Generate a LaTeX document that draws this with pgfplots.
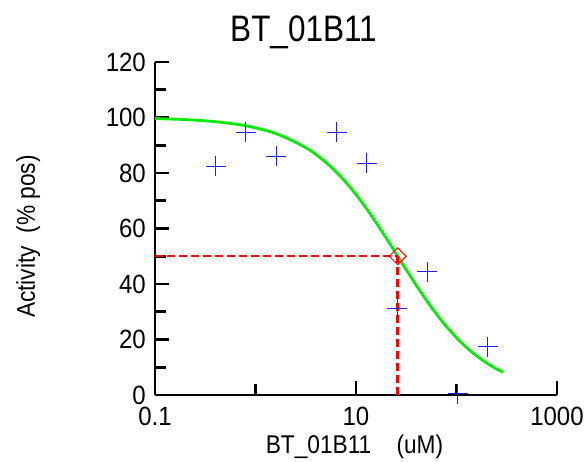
\documentclass[border=0pt]{standalone}
\usepackage{fontspec}
\setmainfont{Liberation Sans}
\usepackage{graphicx}
\usepackage{pgfplots}
\pgfplotsset{compat=1.18}
\definecolor{cgreen}{RGB}{0,235,0}
\definecolor{cblue}{RGB}{30,30,240}
\newcommand{\vs}[2][1.1]{\scalebox{1}[#1]{#2}}
\begin{document}
\begin{tikzpicture}
\useasboundingbox (-155pt,-67pt) rectangle (429pt,395pt);
\begin{axis}[
  at={(0,0)}, anchor=south west,
  scale only axis, width=402pt, height=333pt,
  xmode=log, xmin=0.1, xmax=1000, ymin=0, ymax=120,
  axis x line=bottom, axis y line=left,
  axis line style={line width=2.8pt, -},
  xtick={0.1,10,1000}, xticklabels={\vs{0.1},\vs{10},\vs{1000}},
  minor xtick={1,100},
  ytick={0,20,...,120}, minor ytick={10,30,...,110},
  yticklabel={\vs{\pgfmathprintnumber{\tick}}},
  /pgf/number format/assume math mode=true,
  tick align=inside,
  major tick length=14pt, minor tick length=11pt,
  tick style={black, line width=2.8pt},
  tick label style={font=\fontsize{24}{28}\selectfont},
  yticklabel style={anchor=east, inner sep=0pt, xshift=-9pt},
  xticklabel style={anchor=north, inner sep=0pt, yshift=-12pt},
  clip=false,
]
\addplot[cgreen, line width=2.8pt, no marks, smooth] coordinates {
(0.1,99.62) (0.2,99.24) (0.4,98.48) (0.8,97.02) (1.6,94.20) (3.2,89.04)
(5,83.87) (6.4,80.25) (8,76.47) (10,72.22) (12.8,67.01) (16,61.90)
(20,56.52) (26,50) (32,44.83) (40,39.39) (51.2,33.68) (64,28.89)
(80,24.53) (102.4,20.25) (128,16.88) (160,13.98) (204.8,11.26)
(250,9.42) (290,8.23)};
\addplot[red, line width=2.5pt, dash pattern=on 8pt off 4pt] coordinates {(0.1,50) (26,50)};
\addplot[red, line width=2.5pt, dash pattern=on 8pt off 4pt] coordinates {(26,0) (26,50)};
\addplot[cblue, only marks, mark=+, mark size=10pt, mark options={line width=1pt}] coordinates {
(0.4,82.4) (0.8,94.7) (1.6,86.0) (6.4,94.7) (12.8,83.5) (25.6,31.1)
(51.2,44.5) (102.4,0.4) (204.8,17.3)};
\addplot[red, only marks, mark=square, mark size=6pt, mark options={rotate=45, line width=1pt, fill=none}] coordinates {(26,50)};
\end{axis}
\node[anchor=base, inner sep=0pt, font=\fontsize{31.5}{36}\selectfont] at (148.5pt,353pt) {\vs[1.17]{BT\_01B11}};
\node[anchor=base, inner sep=0pt, font=\fontsize{22.7}{26}\selectfont] at (199.5pt,-59pt) {\vs[1.13]{BT\_01B11\ \ \ \ (uM)}};
\node[anchor=base, inner sep=0pt, rotate=90, font=\fontsize{22.7}{26}\selectfont] at (-120pt,158.5pt) {\vs[1.13]{Activity\ \ (\% pos)}};
\end{tikzpicture}
\end{document}
